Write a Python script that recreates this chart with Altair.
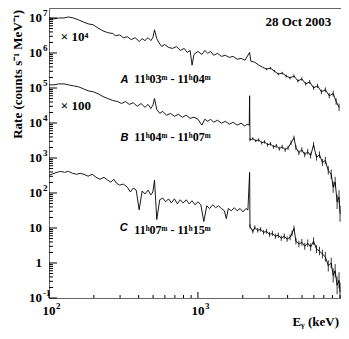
import altair as alt
import pandas as pd

# ---------------- data ----------------
# Spectrum A (x 10^4)
E_A = [100, 108, 116, 126, 135, 146, 158, 170, 183, 198,
       213, 230, 248, 268, 280, 298, 316, 336, 357, 379,
       403, 422, 441, 462, 483, 498, 511, 529, 546, 571,
       598, 635, 675, 717, 761, 809, 847, 886, 913, 941,
       1000, 1062, 1112, 1164, 1218, 1274, 1354, 1439, 1528, 1624,
       1725, 1833, 1948, 2069, 2223, 2266, 2408, 2558, 2718, 2888,
       3068, 3261, 3464, 3680, 3910, 4154, 4414, 4690, 4983, 5293,
       5623, 5976, 6349, 6745, 7166, 7613, 8090, 8468, 8860]
R_A = [1.0e7, 9.4e6, 1.0e7, 1.0e7, 1.07e7, 1.0e7, 8.8e6, 7.7e6, 6.8e6, 6.4e6,
       5.2e6, 4.3e6, 3.8e6, 3.6e6, 3.1e6, 3.3e6, 2.74e6, 2.9e6, 2.41e6, 2.74e6,
       2.12e6, 2.57e6, 2.26e6, 2.74e6, 2.26e6, 2.74e6, 4.6e6, 2.57e6, 1.99e6, 1.53e6,
       1.75e6, 1.44e6, 1.35e6, 1.53e6, 1.18e6, 1.35e6, 1.04e6, 1.18e6, 4.5e5, 9.1e5,
       1.11e6, 9.1e5, 1.18e6, 9.75e5, 1.11e6, 8.6e5, 9.75e5, 8.0e5, 8.6e5, 7.5e5,
       8.0e5, 6.6e5, 7.05e5, 6.2e5, 1.04e6, 5.8e5, 5.45e5, 4.5e5, 3.9e5, 3.46e5,
       3.7e5, 3.04e5, 2.5e5, 2.67e5, 2.2e5, 1.94e5, 2.2e5, 1.59e5, 1.81e5, 1.31e5,
       1.49e5, 1.01e5, 1.15e5, 7.8e4, 8.9e4, 6.0e4, 6.9e4, 4.1e4, 2.8e4]
# error-bar factors for the last points of A (value*F .. value/F)
F_A = [1.07, 1.08, 1.08, 1.09, 1.09, 1.10, 1.10, 1.11, 1.11, 1.12,
       1.12, 1.13, 1.14, 1.15, 1.16, 1.17, 1.19, 1.21, 1.24, 1.28]

# Spectrum B (x 100)
E_B = [100, 108, 116, 126, 135, 146, 158, 170, 183, 198,
       213, 230, 248, 268, 289, 307, 326, 346, 368, 391,
       415, 441, 462, 483, 498, 511, 529, 554, 580, 616,
       654, 695, 739, 785, 834, 886, 941, 1000, 1062, 1112,
       1164, 1218, 1274, 1354, 1439, 1528, 1624, 1725, 1833, 1948,
       2069, 2133, 2210, 2223, 2236, 2336, 2444, 2558, 2677, 2802, 2932,
       3068, 3211, 3360, 3517, 3680, 3850, 4030, 4217, 4414, 4549,
       4761, 4983, 5214, 5456, 5710, 5976, 6253, 6544, 6848, 7166,
       7499, 7848, 8090, 8340, 8596, 8860, 8996]
R_B = [1.23e5, 1.23e5, 1.31e5, 1.31e5, 1.23e5, 1.15e5, 1.08e5, 9.5e4, 8.3e4, 7.8e4,
       6.9e4, 5.7e4, 5.0e4, 4.4e4, 4.1e4, 3.6e4, 4.1e4, 3.4e4, 3.8e4, 3.0e4,
       3.6e4, 2.8e4, 3.4e4, 2.6e4, 3.2e4, 5.0e4, 2.44e4, 1.88e4, 2.15e4, 1.66e4,
       1.88e4, 1.55e4, 1.77e4, 1.46e4, 1.66e4, 1.36e4, 1.46e4, 1.28e4, 8.7e3, 1.28e4,
       1.12e4, 1.28e4, 1.05e4, 1.20e4, 9.9e3, 1.12e4, 9.25e3, 1.05e4, 8.7e3, 9.9e3,
       8.1e3, 9.25e3, 8.7e3, 6.0e4, 3.3e3, 3.56e3, 3.1e3, 3.3e3, 2.7e3, 2.89e3, 2.38e3,
       2.54e3, 2.09e3, 2.23e3, 1.84e3, 2.09e3, 1.72e3, 1.96e3, 2.7e3, 3.8e3, 1.96e3,
       1.42e3, 1.72e3, 1.25e3, 1.51e3, 1.17e3, 2.38e3, 1.03e3, 1.25e3, 743, 845,
       443, 342, 147, 204, 56, 77, 25.7]
F_B = [1.10, 1.10, 1.10, 1.11, 1.11, 1.12, 1.12, 1.12, 1.13, 1.13,
       1.14, 1.14, 1.15, 1.15, 1.16, 1.15, 1.17, 1.18, 1.18, 1.19,
       1.20, 1.21, 1.20, 1.23, 1.24, 1.26, 1.28, 1.32, 1.36, 1.45,
       1.42, 1.6, 1.55, 1.7]

# Spectrum C
E_C = [100, 108, 113, 120, 127, 135, 144, 153, 162, 172,
       183, 195, 207, 220, 234, 248, 260, 272, 284, 298,
       316, 336, 352, 368, 385, 403, 422, 441, 462, 483,
       498, 511, 529, 554, 580, 607, 635, 664, 695, 728,
       761, 796, 834, 873, 913, 956, 1000, 1046, 1095, 1146,
       1199, 1255, 1313, 1374, 1439, 1505, 1551, 1599, 1674, 1752,
       1833, 1918, 2007, 2101, 2165, 2223, 2236, 2336, 2408, 2519,
       2637, 2759, 2888, 3022, 3162, 3309, 3464, 3625, 3793, 3969,
       4154, 4282, 4414, 4549, 4761, 4983, 5214, 5456, 5710, 5976,
       6253, 6544, 6848, 7166, 7499, 7848, 8090, 8340, 8596, 8860,
       8996]
R_C = [321, 365, 389, 415, 389, 415, 365, 342, 365, 342,
       301, 342, 281, 247, 281, 232, 204, 247, 191, 168,
       179, 147, 107, 138, 121, 33, 114, 94, 121, 88,
       107, 232, 17.5, 64, 72, 56, 68, 52, 68, 49,
       64, 52, 64, 49, 60, 46, 56, 46, 15.3, 43,
       36, 46, 38, 43, 36, 31, 18.6, 36, 31, 38,
       31, 36, 29, 36, 33, 389, 11.1, 8.0, 10.4, 8.6,
       9.1, 7.5, 8.0, 6.6, 7.0, 5.8, 6.2, 5.1, 5.8, 4.8,
       5.4, 7.0, 9.75, 4.2, 3.5, 3.9, 3.0, 3.7, 2.85, 4.2,
       2.5, 2.2, 1.8, 1.5, 0.83, 1.0, 0.44, 0.60, 0.23, 0.32,
       0.146]
F_C = [1.15, 1.15, 1.15, 1.16, 1.16, 1.16, 1.17, 1.17, 1.18, 1.18,
       1.19, 1.19, 1.20, 1.20, 1.21, 1.21, 1.20, 1.23, 1.24, 1.25,
       1.26, 1.27, 1.28, 1.28, 1.30, 1.32, 1.34, 1.37, 1.45, 1.42,
       1.6, 1.55, 1.8, 1.7, 1.9]

# axes
X_RANGE = [100, 9130]
Y_RANGE = [0.1, 1.93e7]
X_MAJOR = [100, 1000]
X_LABEL_BASE = ["10", "10"]
X_LABEL_EXP = ["2", "3"]
X_MINOR = [200, 300, 400, 500, 600, 700, 800, 900,
           2000, 3000, 4000, 5000, 6000, 7000, 8000, 9000]
Y_MAJOR = [0.1, 1, 10, 100, 1e3, 1e4, 1e5, 1e6, 1e7]
Y_LABEL_BASE = ["10", "1", "10", "10", "10", "10", "10", "10", "10"]
Y_LABEL_EXP = ["-1", "", "", "2", "3", "4", "5", "6", "7"]
Y_MINOR = [m * d for d in Y_MAJOR[:-1] for m in range(2, 10)]
X_TITLE = "Eᵧ (keV)"
Y_TITLE = "Rate (counts s⁻¹ MeV⁻¹)"

# annotations
ANN_TEXT = ["28 Oct 2003", "× 10⁴", "× 100",
            "A", "11ʰ03ᵐ - 11ʰ04ᵐ",
            "B", "11ʰ04ᵐ - 11ʰ07ᵐ",
            "C", "11ʰ07ᵐ - 11ʰ15ᵐ"]
ANN_KIND = ["date", "mult", "mult", "letter", "time", "letter", "time", "letter", "time"]
ANN_E = [7848, 120, 120, 302, 374, 302, 374, 298, 374]
ANN_R = [7.7e6, 2.9e6, 2.97e4, 1.70e5, 1.81e5, 3.8e3, 4.0e3, 9.75, 8.6]

# ---------------- chart ----------------
W, H = 292, 290
SERIF = "Liberation Serif"

rows, err_rows = [], []
for name, E, R, F in (("A", E_A, R_A, F_A), ("B", E_B, R_B, F_B), ("C", E_C, R_C, F_C)):
    for i, (e, r) in enumerate(zip(E, R)):
        rows.append({"spec": name, "E": e, "R": r, "i": i})
    start = len(E) - len(F)
    for e, r, f in zip(E[start:], R[start:], F):
        err_rows.append({"spec": name, "E": e, "lo": r / f, "hi": r * f})
spec = pd.DataFrame(rows)
errs = pd.DataFrame(err_rows)

xs = alt.Scale(type="log", domain=X_RANGE, nice=False)
ys = alt.Scale(type="log", domain=Y_RANGE, nice=False)

bare = dict(labels=False, ticks=False, grid=False, title=None,
            domainColor="black", domainWidth=1.5)

lines = alt.Chart(spec).mark_line(color="black", strokeWidth=0.9).encode(
    x=alt.X("E:Q", scale=xs, axis=alt.Axis(**bare)),
    y=alt.Y("R:Q", scale=ys, axis=alt.Axis(**bare)),
    detail="spec:N",
    order="i:Q",
)

errbars = alt.Chart(errs).mark_rule(color="black", strokeWidth=0.8, clip=True).encode(
    x=alt.X("E:Q", scale=xs, axis=None),
    y=alt.Y("lo:Q", scale=ys, axis=None),
    y2="hi:Q",
)


def xticks(vals, length):
    return alt.Chart(pd.DataFrame({"v": vals})).mark_rule(color="black", strokeWidth=1).encode(
        x=alt.X("v:Q", scale=xs, axis=None),
        y=alt.value(H), y2=alt.value(H - length))


def yticks(vals, length):
    return alt.Chart(pd.DataFrame({"v": vals})).mark_rule(color="black", strokeWidth=1).encode(
        y=alt.Y("v:Q", scale=ys, axis=None),
        x=alt.value(0), x2=alt.value(length))


ylab = pd.DataFrame({"v": Y_MAJOR, "b": Y_LABEL_BASE, "e": Y_LABEL_EXP})
xlab = pd.DataFrame({"v": X_MAJOR, "b": X_LABEL_BASE, "e": X_LABEL_EXP})

y_base = alt.Chart(ylab).mark_text(font=SERIF, fontWeight="bold", fontSize=13,
                                   align="right", baseline="middle", color="black").encode(
    y=alt.Y("v:Q", scale=ys, axis=None), x=alt.value(-7), text="b:N")
y_exp = alt.Chart(ylab).mark_text(font=SERIF, fontWeight="bold", fontSize=9,
                                  align="left", baseline="middle", color="black", dy=-5).encode(
    y=alt.Y("v:Q", scale=ys, axis=None), x=alt.value(-6), text="e:N")
x_base = alt.Chart(xlab).mark_text(font=SERIF, fontWeight="bold", fontSize=13,
                                   align="center", baseline="middle", color="black").encode(
    x=alt.X("v:Q", scale=xs, axis=None), y=alt.value(H + 13), text="b:N")
x_exp = alt.Chart(xlab).mark_text(font=SERIF, fontWeight="bold", fontSize=9,
                                  align="left", baseline="middle", color="black", dx=7, dy=-5).encode(
    x=alt.X("v:Q", scale=xs, axis=None), y=alt.value(H + 13), text="e:N")

y_title = alt.Chart(pd.DataFrame({"t": [Y_TITLE]})).mark_text(
    font=SERIF, fontWeight="bold", fontSize=13, angle=270, align="right",
    baseline="middle", color="black").encode(
    x=alt.value(-31), y=alt.value(2), text="t:N")
x_title = alt.Chart(pd.DataFrame({"t": [X_TITLE]})).mark_text(
    font=SERIF, fontWeight="bold", fontSize=13, align="right",
    baseline="middle", color="black").encode(
    x=alt.value(W - 2), y=alt.value(H + 24), text="t:N")

ann = pd.DataFrame({"E": ANN_E, "R": ANN_R, "t": ANN_TEXT, "k": ANN_KIND})


def text_layer(kind, **kw):
    return alt.Chart(ann).transform_filter(alt.datum.k == kind).mark_text(
        baseline="middle", color="black", **kw).encode(
        x=alt.X("E:Q", scale=xs, axis=None),
        y=alt.Y("R:Q", scale=ys, axis=None),
        text="t:N")


chart = alt.layer(
    lines, errbars,
    xticks(X_MAJOR, 6), xticks(X_MINOR, 3),
    yticks(Y_MAJOR, 8), yticks(Y_MINOR, 4),
    y_base, y_exp, x_base, x_exp, y_title, x_title,
    text_layer("date", font=SERIF, fontWeight="bold", fontSize=13, align="right"),
    text_layer("mult", font=SERIF, fontWeight="bold", fontSize=13, align="left"),
    text_layer("letter", font="Liberation Sans", fontWeight="bold", fontStyle="italic",
               fontSize=11, align="left"),
    text_layer("time", font=SERIF, fontWeight="bold", fontSize=12, align="left"),
).properties(
    width=W, height=H,
    padding={"left": 41, "top": 0, "right": 0, "bottom": 31},
    autosize=alt.AutoSizeParams(type="none"),
).configure_view(stroke="#666666", strokeWidth=1)

chart.save("out.html", embed_options={"renderer": "svg", "actions": False})
